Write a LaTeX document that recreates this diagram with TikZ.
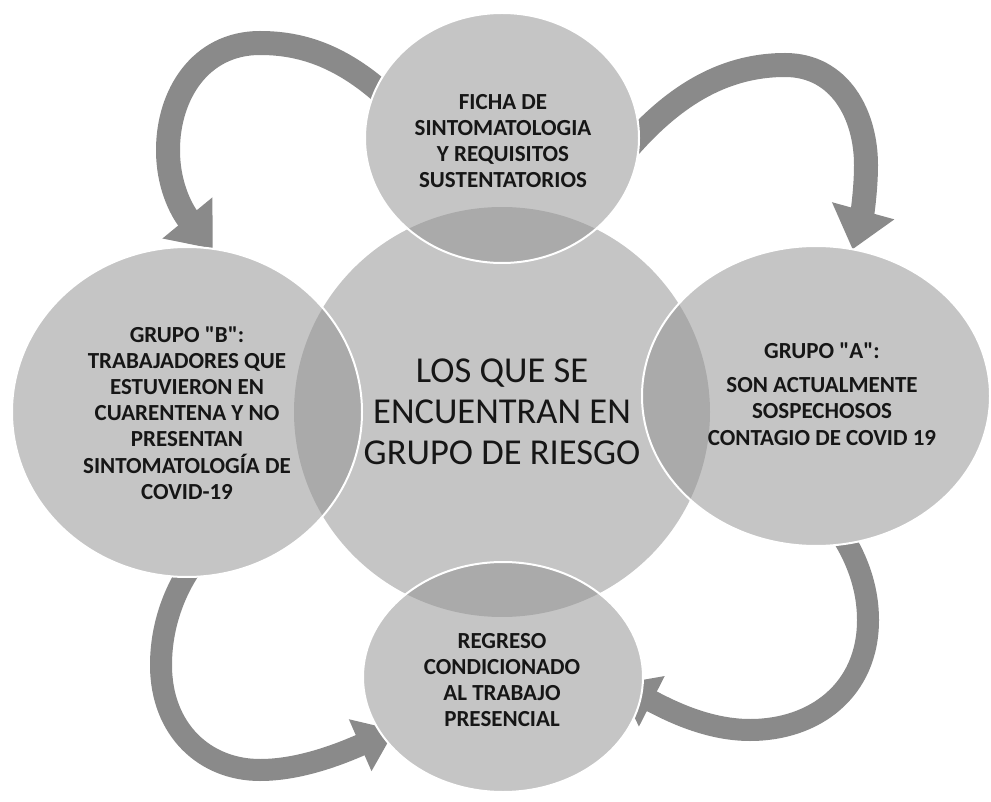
\documentclass[tikz,border=0pt]{standalone}
\usepackage{fontspec}
\setmainfont{Carlito}[Ligatures=TeXOff]
\usetikzlibrary{shapes.geometric,arrows.meta,calc}
\definecolor{circfill}{RGB}{147,147,147}
\definecolor{arrowgray}{RGB}{138,138,138}
\definecolor{txt}{RGB}{22,22,22}
\begin{document}
\begin{tikzpicture}[x=1pt,y=-1pt,
  shapeonly/.style={ellipse, inner sep=0pt, outer sep=0pt},
  bubblefill/.style={fill=circfill, fill opacity=0.53},
  bubbleline/.style={draw=white, line width=2pt},
  flow/.style={draw=arrowgray, line width=24pt, -{Triangle[width=62pt,length=40pt]}},
  flowlow/.style={draw=arrowgray, line width=22pt, -{Triangle[width=54pt,length=38pt]}},
  small/.style={text=txt, align=center, font=\bfseries\fontsize{23pt}{26.2pt}\selectfont, inner sep=0pt},
  big/.style={text=txt, align=center, font=\fontsize{36.5pt}{41pt}\selectfont, inner sep=0pt}]
\useasboundingbox (0,0) rectangle (991,802);

% circle nodes (geometry only)
\node[shapeonly, minimum width=274pt, minimum height=250pt] (T) at (502,138) {};
\node[shapeonly, minimum width=350pt, minimum height=330pt] (L) at (187,412) {};
\node[shapeonly, minimum width=348pt, minimum height=300pt] (R) at (816,396) {};
\node[shapeonly, minimum width=280pt, minimum height=230pt] (B) at (503,677) {};
\node[shapeonly, minimum width=416pt, minimum height=410pt] (C) at (502,412) {};

% arrows (drawn below the circles)
\draw[flow] ($(T.center)!0.92!(T.160)$) .. controls (340,55) and (300,43) .. (260,43)
   .. controls (200,43) and (168,95) .. (168,150)
   .. controls (168,190) and (185,215) .. (L.81);
\draw[flow] ($(T.center)!0.92!(T.-5)$) .. controls (670,100) and (720,65) .. (785,65)
   .. controls (840,65) and (866,115) .. (866,165)
   .. controls (866,190) and (862,215) .. (R.76);
\draw[flowlow] ($(R.center)!0.92!(R.-80)$) .. controls (855,555) and (868,585) .. (868,620)
   .. controls (868,690) and (815,730) .. (750,730)
   .. controls (705,730) and (665,708) .. (618,684);
\coordinate (b4) at (395,730);
\draw[flowlow] ($(L.center)!0.93!(L.-88)$) .. controls (175,590) and (161,625) .. (161,665)
   .. controls (161,730) and (205,770) .. (260,770)
   .. controls (300,770) and (340,754) .. (b4);

% white underlays hide the arrows under the circles
\foreach \n/\a/\b in {T/137/125, L/175/165, R/174/150, B/140/115, C/208/205}
  \fill[white] (\n.center) ellipse [x radius=\a, y radius=\b];

% translucent circles
\fill[bubblefill] (C.center) ellipse [x radius=208, y radius=205];
\foreach \n/\a/\b in {T/137/125, L/175/165, R/174/150, B/140/115}
  \fill[bubblefill] (\n.center) ellipse [x radius=\a, y radius=\b];
\foreach \n/\a/\b in {T/137/125, L/175/165, R/174/150, B/140/115}
  \draw[bubbleline] (\n.center) ellipse [x radius=\a, y radius=\b];

% texts
\node[small] (Tt) at (503,141) {FICHA DE\\SINTOMATOLOGIA\\Y REQUISITOS\\SUSTENTATORIOS};
\node[small] (Lt) at (187,413) {GRUPO "B":\\TRABAJADORES QUE\\ESTUVIERON EN\\CUARENTENA Y NO\\PRESENTAN\\SINTOMATOLOGÍA DE\\COVID-19};
\node[small] (Rt) at (822,394) {GRUPO "A":\\[8pt]SON ACTUALMENTE\\SOSPECHOSOS\\CONTAGIO DE COVID 19};
\node[small] (Bt) at (502,680) {REGRESO\\CONDICIONADO\\AL TRABAJO\\PRESENCIAL};
\node[big] (Ct) at (502,412) {LOS QUE SE\\ENCUENTRAN EN\\GRUPO DE RIESGO};
\end{tikzpicture}
\end{document}
